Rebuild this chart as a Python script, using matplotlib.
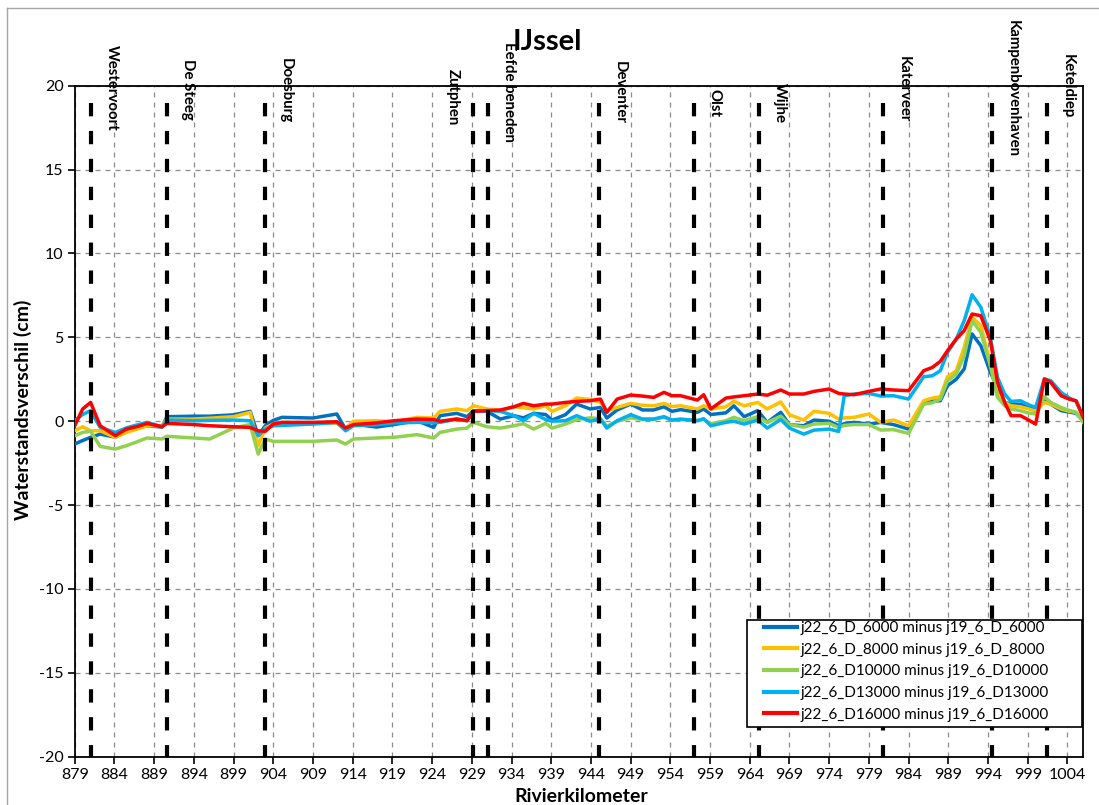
import matplotlib
matplotlib.use("Agg")
import matplotlib.pyplot as plt
from matplotlib.lines import Line2D
from matplotlib.patches import Rectangle

plt.rcParams['font.family'] = ['Lato', 'DejaVu Sans']
plt.rcParams['axes.unicode_minus'] = False

# rivierkilometers (shared x for all series)
km = [879, 880, 881, 882.2, 884.1, 885.5, 887, 888.1, 890, 890.6,
      894, 896, 899, 901.1, 902.1, 903, 904, 905.1, 909, 912,
      913.1, 914.1, 917, 919.2, 922.1, 924.2, 925, 927.1, 928.4, 929.2,
      930.9, 932.6, 934.3, 935.5, 936.8, 938.3, 939.1, 940.8, 942.2, 943.9,
      945.2, 946, 947.3, 949, 950.5, 951.9, 953.2, 954.2, 955.3, 957.4,
      958.2, 959.1, 961, 962, 963.3, 965, 966.2, 967.9, 969, 970.8,
      972.1, 974, 975.2, 975.9, 977.1, 979, 980.5, 982.1, 984, 985.9,
      987, 988, 988.9, 990, 991, 992, 993.1, 994.3, 995.2, 996.1,
      996.9, 998.1, 999, 1000, 1001.1, 1001.9, 1003.2, 1004.2, 1005.1, 1006]

d6000 = [-1.36, -1.15, -0.96, -0.77, -0.95, -0.6, -0.4, -0.27, -0.35, 0.27,
         0.3, 0.3, 0.38, 0.59, -0.86, -0.27, 0.05, 0.23, 0.19, 0.43,
         -0.47, -0.17, -0.35, -0.2, 0.03, -0.37, 0.33, 0.47, 0.27, 0.63,
         0.59, 0.13, 0.33, 0.2, 0.47, 0.4, 0.07, 0.39, 1.02, 0.73,
         0.82, 0.19, 0.67, 1.02, 0.67, 0.67, 0.86, 0.59, 0.69, 0.53,
         0.73, 0.4, 0.5, 0.92, 0.27, 0.63, -0.07, 0.53, -0.21, -0.27,
         0.07, 0.0, -0.27, -0.15, -0.07, -0.17, -0.07, -0.2, -0.47, 1.12,
         1.2, 1.22, 2.12, 2.5, 3.11, 5.2, 4.5, 2.91, 2.02, 1.12,
         1.02, 1.0, 0.9, 0.82, 1.32, 1.02, 0.63, 0.55, 0.47, 0.03]

d8000 = [-0.57, -0.33, -0.57, -0.57, -0.96, -0.67, -0.45, -0.27, -0.27, 0.13,
         0.13, 0.18, 0.27, 0.53, -1.46, -0.4, -0.17, -0.07, -0.13, -0.13,
         -0.41, 0.0, 0.03, -0.05, 0.23, 0.19, 0.59, 0.73, 0.63, 0.92,
         0.73, 0.63, 0.86, 0.8, 0.73, 0.92, 0.59, 0.92, 1.38, 1.3,
         1.12, 0.63, 0.82, 1.06, 0.95, 0.92, 1.06, 0.88, 0.92, 0.73,
         0.92, 0.73, 0.86, 1.18, 0.92, 1.12, 0.73, 1.15, 0.39, 0.07,
         0.59, 0.47, 0.13, 0.2, 0.23, 0.43, -0.07, 0.07, -0.27, 1.22,
         1.38, 1.46, 2.65, 3.0, 4.4, 6.2, 5.7, 3.41, 1.62, 1.12,
         0.92, 0.86, 0.75, 0.59, 1.12, 1.02, 0.73, 0.6, 0.53, 0.03]

d10000 = [-0.86, -0.67, -0.6, -1.5, -1.66, -1.46, -1.2, -1.0, -1.06, -0.9,
          -1.0, -1.06, -0.4, -0.2, -1.96, -1.06, -1.2, -1.2, -1.2, -1.12,
          -1.36, -1.06, -1.0, -0.96, -0.8, -1.0, -0.67, -0.47, -0.41, -0.07,
          -0.33, -0.41, -0.27, -0.15, -0.47, -0.13, -0.41, -0.17, 0.1, 0.2,
          0.15, -0.3, 0.0, 0.2, 0.1, 0.1, 0.25, 0.05, 0.1, 0.05,
          0.1, -0.15, 0.03, 0.23, 0.03, 0.27, -0.07, 0.3, -0.21, -0.35,
          -0.17, -0.13, -0.37, -0.25, -0.2, -0.2, -0.53, -0.5, -0.73, 1.02,
          1.1, 1.32, 2.41, 2.8, 3.9, 5.99, 5.3, 3.31, 1.42, 0.92,
          0.73, 0.63, 0.5, 0.43, 1.46, 1.12, 0.82, 0.65, 0.53, -0.07]

d13000 = [0.03, 0.4, 0.63, -0.37, -0.67, -0.4, -0.2, -0.07, -0.33, 0.07,
          0.03, 0.05, 0.07, 0.03, -0.86, -0.47, -0.27, -0.25, -0.17, -0.07,
          -0.57, -0.27, -0.2, -0.1, -0.07, -0.07, -0.07, 0.13, 0.03, 0.59,
          0.63, 0.59, 0.33, 0.03, 0.47, 0.1, 0.0, 0.03, 0.33, 0.0,
          0.13, -0.41, 0.03, 0.39, 0.13, 0.13, 0.27, 0.07, 0.13, 0.03,
          0.15, -0.27, -0.07, 0.0, -0.17, 0.07, -0.41, 0.1, -0.41, -0.77,
          -0.53, -0.47, -0.61, 1.52, 1.62, 1.66, 1.5, 1.52, 1.32, 2.65,
          2.71, 3.01, 4.1, 4.9, 5.99, 7.54, 6.79, 5.0, 2.61, 1.62,
          1.18, 1.22, 1.0, 0.82, 2.52, 2.42, 1.72, 1.4, 1.18, 0.23]

d16000 = [-0.27, 0.73, 1.12, -0.27, -0.86, -0.47, -0.3, -0.13, -0.33, -0.13,
          -0.2, -0.27, -0.33, -0.37, -0.57, -0.6, -0.17, -0.07, -0.07, -0.03,
          -0.41, -0.2, -0.1, 0.03, 0.13, 0.1, 0.0, 0.13, 0.03, 0.59,
          0.63, 0.67, 0.86, 1.06, 0.92, 1.02, 1.02, 1.12, 1.18, 1.22,
          1.32, 0.53, 1.32, 1.56, 1.5, 1.42, 1.72, 1.52, 1.52, 1.26,
          1.58, 0.73, 1.38, 1.45, 1.52, 1.62, 1.55, 1.86, 1.62, 1.62,
          1.78, 1.92, 1.66, 1.62, 1.58, 1.78, 1.92, 1.86, 1.82, 3.01,
          3.21, 3.57, 4.2, 4.9, 5.4, 6.39, 6.29, 4.8, 2.32, 1.12,
          0.33, 0.33, 0.1, -0.17, 2.52, 2.32, 1.52, 1.32, 1.22, 0.23]

series = [d6000, d8000, d10000, d13000, d16000]
labels = ['j22_6_D_6000 minus j19_6_D_6000',
          'j22_6_D_8000 minus j19_6_D_8000',
          'j22_6_D10000 minus j19_6_D10000',
          'j22_6_D13000 minus j19_6_D13000',
          'j22_6_D16000 minus j19_6_D16000']
colors = ['#0070C0', '#FFC000', '#92D050', '#00B0F0', '#FF0000']

# locaties langs de IJssel
loc_names = ['Westervoort', 'De Steeg', 'Doesburg', 'Zutphen', 'Eefde beneden',
             'Deventer', 'Olst', 'Wijhe', 'Katerveer', 'Kampenbovenhaven', 'Keteldiep']
loc_km = [881.05, 890.6, 903.0, 929.2, 931.0, 945.0, 957.0, 965.2, 980.8, 994.5, 1001.4]
loc_label_y = [19.9, 19.8, 19.7, 19.3, 19.6, 19.6, 19.0, 19.0, 19.8, 19.85, 20.0]
loc_side = [1, 1, 1, -1, 1, 1, 1, 1, 1, 1, 1]

fig = plt.figure(figsize=(10.99, 8.05), dpi=100)
ax = fig.add_axes([0.068, 0.060, 0.9177, 0.8935 - 0.060])

for vals, lab, col in zip(series, labels, colors):
    ax.plot(km, vals, color=col, lw=2.5, label=lab, zorder=3)

for name, x, ly, side in zip(loc_names, loc_km, loc_label_y, loc_side):
    ax.plot([x, x], [19.0, -20], color='black', lw=3.0,
            linestyle=(0, (3.2, 3.5)), zorder=4)
    ax.annotate(name, xy=(x, ly), xytext=(side * 15, 0), textcoords='offset points',
                rotation=-90, ha='center', va='center', fontsize=10.8,
                fontweight='bold', annotation_clip=False, zorder=5)

ax.set_xlim(879, 1006)
ax.set_ylim(-20, 20)
ax.set_xticks(range(879, 1005, 5))
ax.set_yticks(range(-20, 21, 5))
ax.grid(True, color='#8c8c8c', lw=0.9, linestyle=(0, (4, 4)))
ax.set_axisbelow(True)
ax.tick_params(direction='out', length=5, width=1.2, labelsize=11.5, pad=3)
for s in ax.spines.values():
    s.set_linewidth(1.3)
    s.set_color('black')

fig.text(547 / 1099, 1 - 42 / 805, 'IJssel', ha='center', va='center',
         fontsize=21, fontweight='bold')
fig.text(23 / 1099, 1 - 410 / 805, 'Waterstandsverschil (cm)', rotation=90,
         ha='center', va='center', fontsize=14, fontweight='bold')
fig.text(581 / 1099, 1 - 796 / 805, 'Rivierkilometer', ha='center', va='center',
         fontsize=14, fontweight='bold')

# legenda met eigen kader
leg = ax.legend(loc='upper left', bbox_to_anchor=(764 / 1099, 1 - 621 / 805),
                bbox_transform=fig.transFigure, borderaxespad=0, borderpad=0,
                frameon=False, fontsize=11.0, handlelength=2.15,
                handletextpad=0.25, labelspacing=0.5)
for h in leg.get_lines():
    h.set_linewidth(3.0)
leg.set_zorder(7)
ax.add_patch(Rectangle((747.3 / 1099, 1 - 727.3 / 805), (1081.7 - 747.3) / 1099,
                       (727.3 - 620) / 805, transform=fig.transFigure,
                       facecolor='white', edgecolor='black', lw=1.2, zorder=6,
                       clip_on=False))

# kader van de grafiek
fig.add_artist(Line2D([7 / 1099, 7 / 1099], [0, 1 - 8 / 805], transform=fig.transFigure,
                      color='#a6a6a6', lw=1))
fig.add_artist(Line2D([7 / 1099, 1], [1 - 8 / 805, 1 - 8 / 805], transform=fig.transFigure,
                      color='#a6a6a6', lw=1))

fig.savefig('out.png', dpi=100)
